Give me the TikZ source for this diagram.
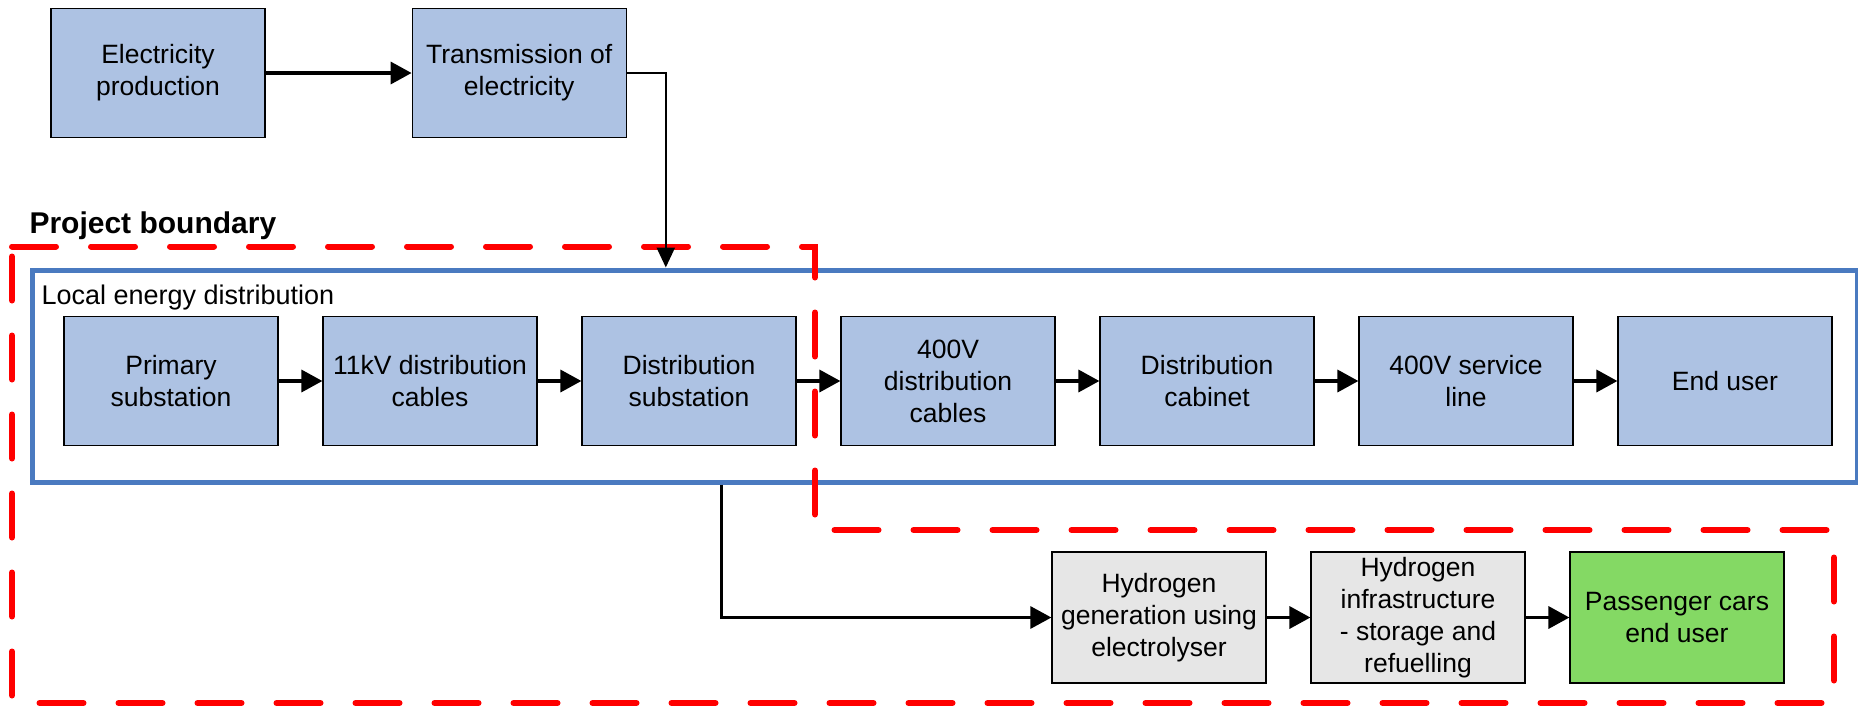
\documentclass[tikz,border=0pt]{standalone}
\usepackage{fontspec}
\setmainfont{Liberation Sans}
\usepackage{xcolor}
\usetikzlibrary{arrows.meta, positioning}

\definecolor{boxblue}{RGB}{173,194,227}
\definecolor{boxgrey}{RGB}{230,230,230}
\definecolor{boxgreen}{RGB}{132,217,100}
\definecolor{frameblue}{RGB}{74,122,192}

\begin{document}
\begin{tikzpicture}[
  x=1pt, y=-1pt,
  font=\fontsize{26.5}{32}\selectfont,
  node distance=43.8pt and 43.8pt,
  box/.style={
    draw,
    line width=1.2pt,
    fill=boxblue,
    align=center,
    inner sep=0pt,
    minimum width=214pt,
    minimum height=129pt
  },
  frame/.style={draw=frameblue, line width=5pt},
  boundary/.style={draw=red, line width=6pt, line cap=round,
    dash pattern=on 44pt off 35pt},
  arrow/.style={-{Triangle[length=21pt, width=22pt]}, line width=3.5pt},
  feed/.style={-{Triangle[length=20pt, width=18pt]}, line width=2.5pt}
]
\useasboundingbox (0,0) rectangle (1858,705);

% ================= supply side =================
\node[box] (eprod) at (158,73) {Electricity\\production};
\node[box, right=146pt of eprod] (trans) {Transmission of\\electricity};

% ================= local energy distribution =================
\node[frame, minimum width=1825pt, minimum height=212pt] (local) at (944.5,376) {};
\node[anchor=base west, font=\fontsize{27}{32}\selectfont] (local_title) at (38,304)
  {Local energy distribution};

\node[box] (psub) at (171,381) {Primary\\substation};
\node[box, right=of psub] (cab11) {11kV distribution\\cables};
\node[box, right=of cab11] (dsub) {Distribution\\substation};
\node[box, right=of dsub] (cab400) {400V\\distribution\\cables};
\node[box, right=of cab400] (dcab) {Distribution\\cabinet};
\node[box, right=of dcab] (sline) {400V service\\line};
\node[box, right=of sline] (enduser) {End user};

% ================= hydrogen branch =================
\node[box, fill=boxgrey, minimum height=131pt] (h2gen) at (1159,617.5)
  {Hydrogen\\generation using\\electrolyser};
\node[box, fill=boxgrey, minimum height=131pt, right=of h2gen] (h2infra)
  {Hydrogen\\infrastructure\\- storage and\\refuelling};
\node[box, fill=boxgreen, minimum height=131pt, right=of h2infra] (cars)
  {Passenger cars\\end user};

% ================= project boundary =================
\node[anchor=base west, font=\fontsize{30}{36}\selectfont\bfseries] (boundary_title)
  at (26,233) {Project boundary};
\draw[boundary] (12,246.5) -| (815,530) -| (1834,703) -- (12,703) -- cycle;

% ================= connectors =================
\draw[arrow] (eprod) -- (trans);
\draw[feed] (trans.east) -| ([xshift=39pt]trans.east |- local.north);

\foreach \a/\b in {psub/cab11, cab11/dsub, dsub/cab400, cab400/dcab, dcab/sline, sline/enduser}
  \draw[arrow] (\a) -- (\b);

\draw[arrow, line width=3pt] ([xshift=32pt]dsub.south |- local.south) |- (h2gen);
\draw[arrow] (h2gen) -- (h2infra);
\draw[arrow] (h2infra) -- (cars);

\end{tikzpicture}
\end{document}
